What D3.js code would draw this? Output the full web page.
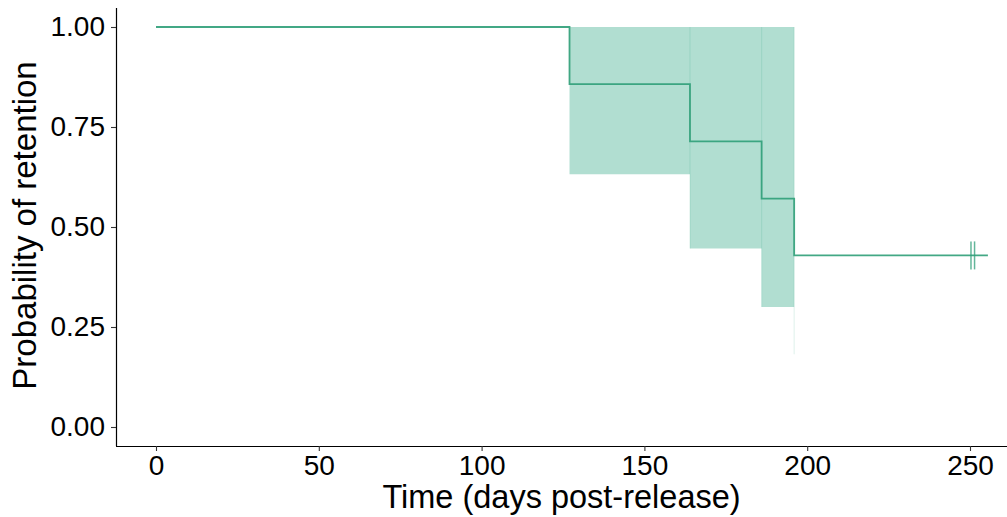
<!DOCTYPE html>
<html>
<head>
<meta charset="utf-8">
<script src="https://cdn.jsdelivr.net/npm/d3@7"></script>
<style>
  html, body { margin: 0; padding: 0; background: #fff; }
  svg { display: block; font-family: "Liberation Sans", Arial, sans-serif; }
</style>
</head>
<body>
<svg id="chart" width="1007" height="517"></svg>
<script>
// ---- data ----
const times = [0, 127, 164, 186, 196];
const survival = [1.0, 0.857, 0.714, 0.571, 0.429];
const lowerCI = [1.0, 0.632, 0.446, 0.300, 0.182];
const upperCI = [1.0, 1.0, 1.0, 1.0, 1.0];
const endTime = 255.5;
const censorTimes = [250.3, 251.4];
const xTicks = [0, 50, 100, 150, 200, 250];
const yTicks = [0.00, 0.25, 0.50, 0.75, 1.00];
const xTitle = "Time (days post-release)";
const yTitle = "Probability of retention";

(function () {
const lineColor = "#2f9e78";
const bandColor = "#1b9e77";

const svg = d3.select("#chart");
const pLeft = 116, pRight = 1007, pTop = 8, pBottom = 446;

const x = d3.scaleLinear().domain([0, 250]).range([156, 970]);
const y = d3.scaleLinear().domain([-0.0475, 1.0475]).range([pBottom, pTop]);

// confidence band (step)
const bandPts = times.map((t, i) => ({t, lo: lowerCI[i], hi: upperCI[i]})).slice(1);
const area = d3.area()
  .x(d => x(d.t)).y0(d => y(d.lo)).y1(d => y(d.hi))
  .curve(d3.curveStepAfter);
svg.append("path").datum(bandPts)
  .attr("d", area)
  .attr("fill", bandColor).attr("fill-opacity", 0.34);

// seams between band steps
svg.selectAll("line.seam").data(bandPts.slice(1))
  .enter().append("line")
  .attr("x1", d => x(d.t)).attr("x2", d => x(d.t))
  .attr("y1", d => y(d.hi)).attr("y2", d => y(d.lo))
  .attr("stroke", bandColor).attr("stroke-opacity", 0.12).attr("stroke-width", 1.2);

// survival step line
const linePts = times.map((t, i) => ({t, s: survival[i]}));
linePts.push({t: endTime, s: survival[survival.length - 1]});
const line = d3.line().x(d => x(d.t)).y(d => y(d.s)).curve(d3.curveStepAfter);
svg.append("path").datum(linePts)
  .attr("d", line)
  .attr("fill", "none").attr("stroke", lineColor).attr("stroke-width", 1.8)
  .attr("stroke-opacity", 0.9);

// censor marks
const sLast = survival[survival.length - 1];
svg.selectAll("line.censor").data(censorTimes)
  .enter().append("line")
  .attr("x1", d => x(d)).attr("x2", d => x(d))
  .attr("y1", y(sLast) - 14).attr("y2", y(sLast) + 14)
  .attr("stroke", lineColor).attr("stroke-width", 1.5).attr("stroke-opacity", 0.75);

// axes
const xAxis = d3.axisBottom(x).tickValues(xTicks).tickFormat(d3.format("d"))
  .tickSizeInner(5).tickSizeOuter(0).tickPadding(4);
const gx = svg.append("g").attr("transform", `translate(0,${pBottom})`).call(xAxis);
gx.select(".domain").attr("d", `M${pLeft},0.5H${pRight}`);

const yAxis = d3.axisLeft(y).tickValues(yTicks).tickFormat(d3.format(".2f"))
  .tickSizeInner(5).tickSizeOuter(0).tickPadding(6);
const gy = svg.append("g").attr("transform", `translate(${pLeft},0)`).call(yAxis);
gy.select(".domain").attr("d", `M0.5,${pTop}V${pBottom}`);

[gx, gy].forEach(g => {
  g.selectAll("text").attr("font-size", 28).attr("fill", "#000")
    .attr("font-family", "Liberation Sans, Arial, sans-serif");
  g.selectAll("line").attr("stroke", "#333").attr("stroke-width", 1.1);
  g.select(".domain").attr("stroke", "#000").attr("stroke-width", 1.2);
});

svg.append("text")
  .attr("x", (pLeft + pRight) / 2).attr("y", 508)
  .attr("text-anchor", "middle").attr("font-size", 32.5).attr("fill", "#000")
  .text(xTitle);

svg.append("text")
  .attr("transform", `translate(36,225.5) rotate(-90)`)
  .attr("text-anchor", "middle").attr("font-size", 33).attr("fill", "#000")
  .text(yTitle);
})();
</script>
</body>
</html>
